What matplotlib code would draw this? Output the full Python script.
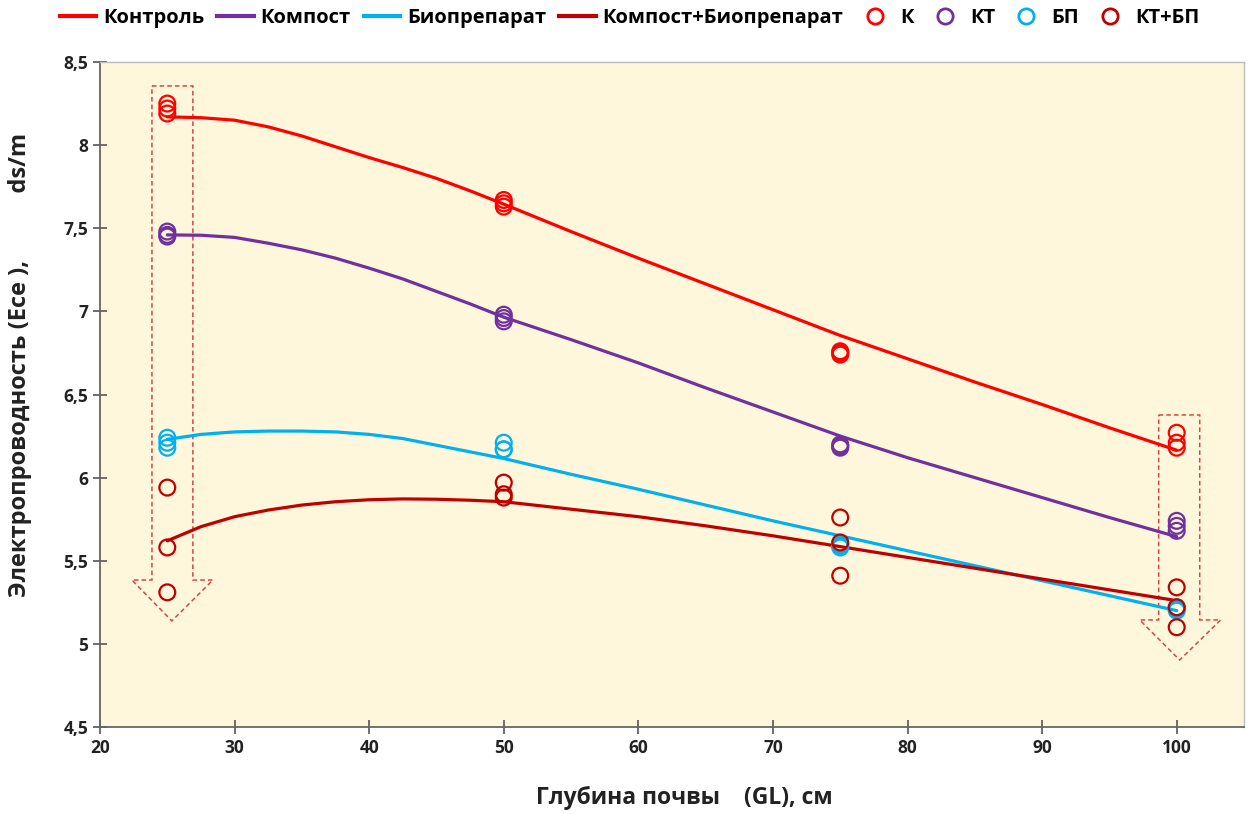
import numpy as np
import matplotlib
matplotlib.use("Agg")
import matplotlib.pyplot as plt
from matplotlib.lines import Line2D
from matplotlib.patches import Polygon
from matplotlib.ticker import FuncFormatter

plt.rcParams['font.family'] = ['Open Sans', 'DejaVu Sans']
plt.rcParams['font.weight'] = 'bold'

# measured points (three replicates per depth)
depth_pts = [25, 25, 25, 50, 50, 50, 75, 75, 75, 100, 100, 100]
k_pts = [8.25, 8.22, 8.19, 7.67, 7.63, 7.65, 6.76, 6.75, 6.74, 6.27, 6.21, 6.18]
kt_pts = [7.48, 7.45, 7.46, 6.98, 6.94, 6.96, 6.20, 6.19, 6.18, 5.74, 5.71, 5.68]
bp_pts = [6.24, 6.21, 6.18, 6.21, 6.17, 6.17, 5.59, 5.58, 5.60, 5.22, 5.20, 5.21]
ktbp_pts = [5.94, 5.58, 5.31, 5.97, 5.90, 5.88, 5.76, 5.61, 5.41, 5.34, 5.22, 5.10]

# fitted curves
depth_fit = [25, 27.5, 30, 32.5, 35, 37.5, 40, 42.5, 45, 47.5, 50,
             55, 60, 65, 70, 75, 80, 85, 90, 95, 100]
k_fit = [8.17, 8.165, 8.15, 8.11, 8.055, 7.99, 7.925, 7.865, 7.80, 7.725, 7.645,
         7.48, 7.32, 7.165, 7.01, 6.855, 6.715, 6.575, 6.44, 6.30, 6.165]
kt_fit = [7.46, 7.458, 7.445, 7.41, 7.37, 7.32, 7.26, 7.195, 7.12, 7.045, 6.965,
          6.83, 6.69, 6.54, 6.395, 6.25, 6.12, 6.00, 5.88, 5.76, 5.645]
bp_fit = [6.23, 6.26, 6.275, 6.28, 6.28, 6.275, 6.26, 6.235, 6.195, 6.155, 6.115,
          6.02, 5.93, 5.835, 5.74, 5.65, 5.56, 5.47, 5.38, 5.29, 5.20]
ktbp_fit = [5.62, 5.705, 5.765, 5.805, 5.835, 5.855, 5.867, 5.872, 5.87, 5.864, 5.855,
            5.81, 5.765, 5.71, 5.65, 5.585, 5.52, 5.455, 5.39, 5.325, 5.26]

line_names = ['Контроль', 'Компост', 'Биопрепарат', 'Компост+Биопрепарат']
point_names = ['К', 'КТ', 'БП', 'КТ+БП']
colors = ['#FF0000', '#7030A0', '#00B0F0', '#C00000']

fig = plt.figure(figsize=(12.52, 8.14), dpi=100)
ax = fig.add_axes([100/1252, 1-727/814, 1144/1252, 665/814])
ax.set_facecolor('#FFF7DC')

fits = [k_fit, kt_fit, bp_fit, ktbp_fit]
pts = [k_pts, kt_pts, bp_pts, ktbp_pts]
for f, c in zip(fits, colors):
    ax.plot(depth_fit, f, color=c, lw=2.3, zorder=3, solid_capstyle='round',
            solid_joinstyle='round')
for p, c in zip(pts, colors):
    ax.scatter(depth_pts, p, s=130, facecolors='none', edgecolors=c, linewidths=1.6, zorder=4)

# dashed down arrows over the first and last depth
def down_arrow(x0, x1, hx0, hx1, tipx, ytop, yneck, ytip):
    verts = [(x0, ytop), (x1, ytop), (x1, yneck), (hx1, yneck), (tipx, ytip),
             (hx0, yneck), (x0, yneck)]
    ax.add_patch(Polygon(verts, closed=True, fill=False, ls=(0, (3, 2)),
                         ec='#D04848', lw=1.1, zorder=2))

down_arrow(23.86, 26.90, 22.37, 28.39, 25.34, 8.356, 5.384, 5.138)
down_arrow(98.66, 101.71, 97.25, 103.27, 100.22, 6.377, 5.144, 4.903)

ax.set_xlim(20, 105)
ax.set_ylim(4.5, 8.5)
ax.set_xticks(np.arange(20, 101, 10))
ax.set_yticks(np.arange(4.5, 8.51, 0.5))
ax.yaxis.set_major_formatter(FuncFormatter(lambda v, _: ('%g' % v).replace('.', ',')))
ax.tick_params(direction='inout', length=10, width=1.2, color='#555555',
               labelsize=12.5, labelcolor='#222222')
for lbl in ax.get_xticklabels() + ax.get_yticklabels():
    lbl.set_fontweight('bold')
for side in ['left', 'bottom']:
    ax.spines[side].set_color('#666666')
    ax.spines[side].set_linewidth(1.3)
for side in ['top', 'right']:
    ax.spines[side].set_color('#BBBBBB')
    ax.spines[side].set_linewidth(1.0)

ax.set_xlabel('Глубина почвы    (GL), см', fontsize=16.5, fontweight='bold',
              color='#222222')
ax.xaxis.set_label_coords(0.5105, -0.088)
ax.set_ylabel('Электропроводность (Ece ),           ds/m', fontsize=17,
              fontweight='bold', color='#222222')
ax.yaxis.set_label_coords(-0.0594, 0.544)

handles = [Line2D([], [], color=c, lw=3) for c in colors]
handles += [Line2D([], [], ls='none', marker='o', ms=11, mfc='none', mec=c, mew=2)
            for c in colors]
fig.legend(handles, line_names + point_names, loc='center', ncol=8,
           bbox_to_anchor=(0.503, 1-18/814), frameon=False,
           prop={'size': 14.5, 'weight': 'bold'}, handlelength=1.8,
           handletextpad=0.35, columnspacing=0.65)

fig.savefig('out.png', dpi=100)
